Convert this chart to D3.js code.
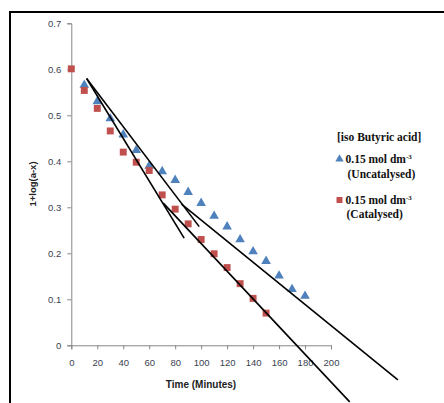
<!DOCTYPE html>
<html>
<head>
<meta charset="utf-8">
<script src="https://cdn.jsdelivr.net/npm/d3@7"></script>
<style>
  body { margin: 0; background: #fff; }
  svg { display: block; }
</style>
</head>
<body>
<svg></svg>
<script>
(() => {
    const width = 444;
    const height = 403;

    const times = [0, 10, 20, 30, 40, 50, 60, 70, 80, 90, 100, 110, 120, 130, 140, 150, 160, 170, 180];
    const uncatalysed = [null, 0.566, 0.53, 0.493, 0.458, 0.424, 0.39, 0.378, 0.359, 0.333, 0.309, 0.281, 0.258, 0.230, 0.204, 0.183, 0.151, 0.122, 0.107];
    const catalysed = [0.601, 0.554, 0.515, 0.466, 0.42, 0.398, 0.38, 0.327, 0.296, 0.264, 0.23, 0.199, 0.169, 0.134, 0.102, 0.07, null, null, null];
    const xTicks = [0, 20, 40, 60, 80, 100, 120, 140, 160, 180, 200];
    const yTicks = [0, 0.1, 0.2, 0.3, 0.4, 0.5, 0.6, 0.7];
    // hand-drawn tangent lines: [x1, y1, x2, y2] in data units
    const tangents = [
        [11.8, 0.58, 98.5, 0.258],
        [11.8, 0.58, 86.9, 0.233],
        [84.9, 0.307, 251.5, -0.075],
        [70.8, 0.309, 214.4, -0.123]
    ];
    const legendTitle = "[iso Butyric acid]";
    const legendItems = [
        { name: "(Uncatalysed)", conc: "0.15 mol dm", color: "#4f81bd", shape: d3.symbolTriangle },
        { name: "(Catalysed)", conc: "0.15 mol dm", color: "#c0504d", shape: d3.symbolSquare }
    ];

    const xScale = d3.scaleLinear().domain([0, 200]).range([71.3, 331]);
    const yScale = d3.scaleLinear().domain([0, 0.7]).range([345.3, 23.3]);

    const svg = d3.select("svg")
        .attr("width", width)
        .attr("height", height);

    svg.append("rect")
        .attr("x", 10).attr("y", 12)
        .attr("width", 460).attr("height", 420)
        .attr("fill", "#fff")
        .attr("stroke", "#000")
        .attr("stroke-width", 2);

    const g = svg.append("g");

    // axes
    const xAxis = d3.axisBottom(xScale).tickValues(xTicks).tickSize(4).tickFormat(d3.format("d"));
    const yAxis = d3.axisLeft(yScale).tickValues(yTicks).tickSize(4).tickFormat(d => d === 0 ? "0" : d3.format(".1f")(d));

    const gx = g.append("g")
        .attr("transform", `translate(0, ${yScale(0)})`)
        .call(xAxis);
    const gy = g.append("g")
        .attr("transform", `translate(${xScale(0)}, 0)`)
        .call(yAxis);

    [gx, gy].forEach(a => {
        a.select(".domain").attr("stroke", "#868686");
        a.selectAll(".tick line").attr("stroke", "#868686");
        a.selectAll(".tick text")
            .attr("fill", "#3a3f50")
            .style("font-family", "'Liberation Sans', Arial, sans-serif")
            .style("font-size", "9.5px");
    });
    gx.selectAll(".tick text").attr("dy", "0").attr("y", 21);
    gy.selectAll(".tick text").attr("x", -10).attr("dy", "0.35em");

    g.append("text")
        .attr("x", 201).attr("y", 388)
        .attr("text-anchor", "middle")
        .attr("fill", "#222")
        .style("font-family", "'Liberation Sans', Arial, sans-serif")
        .style("font-size", "10px")
        .style("font-weight", "bold")
        .text("Time (Minutes)");

    g.append("text")
        .attr("transform", "translate(36, 184) rotate(-90)")
        .attr("text-anchor", "middle")
        .attr("fill", "#222")
        .style("font-family", "'Liberation Sans', Arial, sans-serif")
        .style("font-size", "9.5px")
        .style("font-weight", "bold")
        .text("1+log(a-x)");

    // data points
    const series = [
        { values: uncatalysed, item: legendItems[0], size: 40 },
        { values: catalysed, item: legendItems[1], size: 48 }
    ];
    series.forEach(s => {
        const pts = times.map((t, i) => ({ x: t, y: s.values[i] })).filter(d => d.y !== null);
        g.selectAll(null)
            .data(pts)
            .enter()
            .append("path")
            .attr("d", d3.symbol().type(s.item.shape).size(s.size))
            .attr("fill", s.item.color)
            .attr("transform", d => `translate(${xScale(d.x)}, ${yScale(d.y)})`);
    });

    // tangent lines
    g.selectAll("line.tangent")
        .data(tangents)
        .enter()
        .append("line")
        .attr("class", "tangent")
        .attr("x1", d => xScale(d[0]))
        .attr("y1", d => yScale(d[1]))
        .attr("x2", d => xScale(d[2]))
        .attr("y2", d => yScale(d[3]))
        .attr("stroke", "#000")
        .attr("stroke-width", 1.6);

    // legend
    const legend = svg.append("g")
        .style("font-family", "'Liberation Serif', 'Times New Roman', serif")
        .style("font-weight", "bold")
        .attr("fill", "#111");

    legend.append("text")
        .attr("x", 337).attr("y", 141)
        .style("font-size", "11.5px")
        .text(legendTitle);

    legendItems.forEach((d, i) => {
        const y0 = 163 + i * 41;
        legend.append("path")
            .attr("d", d3.symbol().type(d.shape).size(i === 0 ? 30 : 36))
            .attr("fill", d.color)
            .attr("transform", `translate(339.5, ${y0 - 4})`);
        const t = legend.append("text")
            .attr("x", 345.5).attr("y", y0)
            .style("font-size", "11.5px");
        t.append("tspan").text(d.conc);
        t.append("tspan").attr("dy", -4).style("font-size", "7px").text("-3");
        legend.append("text")
            .attr("x", 347.5 - i).attr("y", y0 + 15 - i * 1.5)
            .style("font-size", "11.5px")
            .text(d.name);
    });
})();
</script>
</body>
</html>
